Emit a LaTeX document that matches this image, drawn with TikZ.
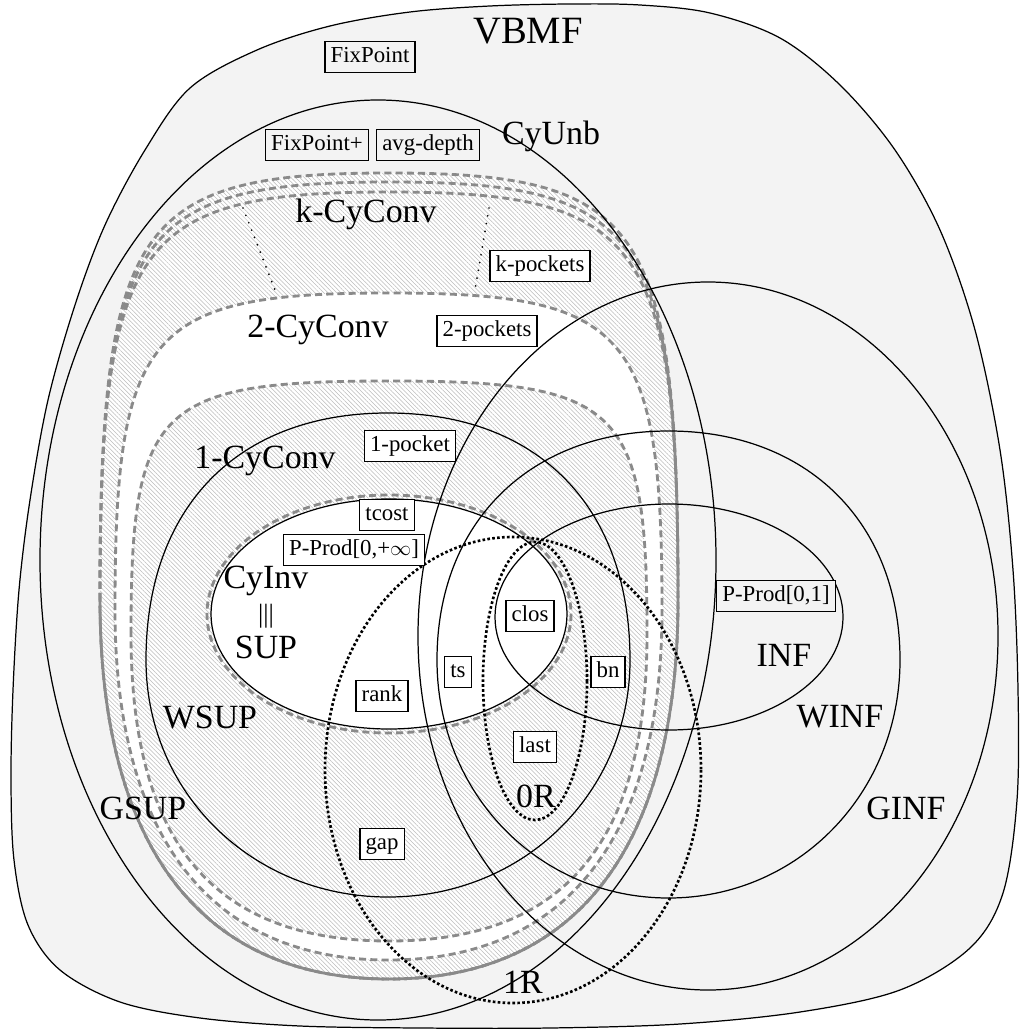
\documentclass[tikz,border=0pt]{standalone}
\usepackage{fontspec}
\setmainfont{Liberation Serif}
\usetikzlibrary{patterns.meta}

\definecolor{bggray}{RGB}{243,243,243}
\definecolor{dashgray}{RGB}{138,138,138}
\definecolor{hatchgray}{RGB}{188,188,188}

\tikzset{
  cyshape/.style n args={7}{insert path={({#1},{#5})
      .. controls ({#1},{#5-#6*(#5-#3)}) and ({(#1+#2)/2-#6*(#2-#1)/2},{#3}) .. ({(#1+#2)/2},{#3})
      .. controls ({(#1+#2)/2+#6*(#2-#1)/2},{#3}) and ({#2},{#5-#6*(#5-#3)}) .. ({#2},{#5})
      .. controls ({#2},{#5+#7*(#4-#5)}) and ({(#1+#2)/2+#7*(#2-#1)/2},{#4}) .. ({(#1+#2)/2},{#4})
      .. controls ({(#1+#2)/2-#7*(#2-#1)/2},{#4}) and ({#1},{#5+#7*(#4-#5)}) .. ({#1},{#5}) -- cycle}},
  setline/.style={draw=black,line width=0.7pt},
  cyline/.style={draw=dashgray,line width=1.6pt,dash pattern=on 4pt off 2.4pt},
  hatched/.style={preaction={fill=white},pattern={Lines[angle=-45,distance=1.75pt,line width=0.3pt]},pattern color=hatchgray},
  rline/.style={draw=black,line width=1.5pt,dash pattern=on 1.5pt off 1.3pt},
  kdots/.style={draw=black,line width=1.1pt,line cap=round,dash pattern=on 0pt off 4.5pt},
  setname/.style={font=\fontsize{19.3}{22}\selectfont,inner sep=0pt},
  algo/.style={draw,line width=0.7pt,fill=white,font=\fontsize{13}{15}\selectfont,inner xsep=3.2pt,inner ysep=2.5pt,text height=9.4pt,text depth=3.2pt},
  algogray/.style={algo,fill=bggray}
}

\begin{document}
\begin{tikzpicture}[x=0.02cm,y=-0.02cm]
\useasboundingbox (0,0) rectangle (1019,1030);
% VBMF
\draw[setline,fill=bggray] plot[smooth cycle,tension=0.55] coordinates {
  (190,88) (257,50) (330,26) (410,12) (490,6) (570,4) (640,5) (710,13) (780,38)
  (840,85) (895,150) (940,230) (975,330) (1000,450) (1013,570) (1018,690)
  (1017,800) (1003,893) (970,948) (900,990) (800,1012) (680,1024) (550,1028)
  (420,1028) (300,1026) (200,1018) (120,1002) (60,970) (28,925) (14,860)
  (11,780) (13,690) (19,590) (30,500) (48,400) (75,305) (105,225) (145,150)};
% CyConv levels
\path[hatched,cyshape={100}{678}{173}{979}{600}{0.88}{0.65}];
\fill[white,cyshape={115}{662}{293}{960}{610}{0.88}{0.65}];
\path[hatched,cyshape={131}{647}{381}{941}{634}{0.9}{0.68}];
\fill[white] (389,614) ellipse [x radius=178,y radius=115];
\foreach \ktop in {173,182,192}
  \path[cyline,cyshape={100}{678}{\ktop}{979}{600}{0.88}{0.65}];
\path[cyline,cyshape={115}{662}{293}{960}{610}{0.88}{0.65}];
\path[cyline,cyshape={131}{647}{381}{941}{634}{0.9}{0.68}];
\draw[cyline] (389,614) ellipse [x radius=182,y radius=119];
\draw[kdots] (243,208) -- (275,290);
\draw[kdots] (489,208) -- (475,290);
% sets
\draw[setline] (378,560) ellipse [x radius=338,y radius=460];
\path[setline,cyshape={146}{630}{413}{897}{660}{0.62}{0.56}];
\draw[setline] (389,614) ellipse [x radius=178,y radius=115];
\draw[setline] (669,617) ellipse [x radius=174,y radius=113];
\path[setline,cyshape={437}{900}{431}{898}{660}{0.6}{0.56}];
\draw[setline] (708,636) ellipse [x radius=290,y radius=354];
\draw[rline] (535,681) ellipse [x radius=52,y radius=139];
\draw[rline] (513,770) ellipse [x radius=188,y radius=233];
% names
\node[setname,font=\fontsize{22}{24}\selectfont] (vbmf) at (528,31) {VBMF};
\node[setname] (cyunb) at (551,136) {CyUnb};
\node[setname] (kcyconv) at (366,214) {k-CyConv};
\node[setname] (twocyconv) at (318,330) {2-CyConv};
\node[setname] (onecyconv) at (265,461) {1-CyConv};
\node[setname] (cyinv) at (266,581) {CyInv};
\node[setname,font=\fontsize{15}{16}\selectfont] (equiv) at (266,616) {|||};
\node[setname] (sup) at (266,647) {SUP};
\node[setname] (wsup) at (210,718) {WSUP};
\node[setname] (gsup) at (143,808) {GSUP};
\node[setname] (inf) at (784,655) {INF};
\node[setname] (winf) at (840,717) {WINF};
\node[setname] (ginf) at (906,808) {GINF};
\node[setname] (zeror) at (536,796) {0R};
\node[setname] (oner) at (523,982) {1R};
% algorithms
\node[algogray] (fixpoint) at (370,57) {FixPoint};
\node[algogray] (fixplus) at (317,145) {FixPoint+};
\node[algogray] (avgdepth) at (428,145) {avg-depth};
\node[algo] (kpockets) at (540,266) {k-pockets};
\node[algo] (twopockets) at (487,331) {2-pockets};
\node[algo] (onepocket) at (410,446) {1-pocket};
\node[algo] (tcost) at (387,515) {tcost};
\node[algo] (pprodinf) at (354,550) {P-Prod[0,+$\infty$]};
\node[algo] (rank) at (382,696) {rank};
\node[algo] (ts) at (458,672) {ts};
\node[algo] (clos) at (530,616) {clos};
\node[algo] (bn) at (608,672) {bn};
\node[algo] (last) at (535,747) {last};
\node[algo] (gap) at (382,844) {gap};
\node[algogray] (pprodone) at (776,596) {P-Prod[0,1]};
\end{tikzpicture}
\end{document}
